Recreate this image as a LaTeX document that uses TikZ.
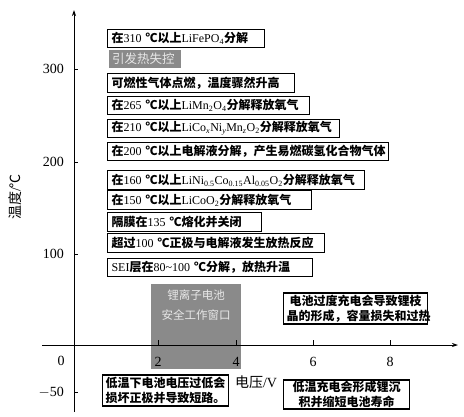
\documentclass[tikz,border=0pt]{standalone}
\usepackage{fontspec}
\setmainfont{Liberation Serif}
\newfontfamily\cjk{Noto Sans CJK SC}
\usepackage{tikz}
\usetikzlibrary{arrows.meta}
\newcommand{\zh}[1]{{\cjk\bfseries #1}}
\newcommand{\zhl}[1]{{\cjk #1}}
\definecolor{clrWin}{RGB}{138,138,138}
\definecolor{clrWinTxt}{RGB}{232,232,232}
\tikzset{
  axis/.style={line width=0.8pt,-{Stealth[length=6pt,width=4pt]}},
  tick/.style={line width=0.8pt},
  ticklbl/.style={font=\fontsize{14}{16}\selectfont,inner sep=0pt},
  axislbl/.style={font=\fontsize{14}{16}\selectfont,inner sep=0pt},
  evt/.style={draw,line width=1.1pt,anchor=west,minimum height=18.5pt,
    inner xsep=4pt,inner ysep=1pt,text width=#1,align=left,
    font=\fontsize{12}{14}\selectfont},
  hot/.style={fill=clrWin,text=clrWinTxt,anchor=west,minimum height=18pt,
    inner xsep=3pt,inner ysep=1pt,text width=#1,align=left,
    font=\fontsize{12.5}{14}\selectfont},
  note/.style={draw,line width=1.1pt,inner xsep=3pt,inner ysep=1pt,
    text width=#1,align=center,font=\fontsize{12}{14.5}\selectfont},
  window/.style={fill=clrWin},
  wintxt/.style={text=clrWinTxt,font=\fontsize{11.5}{14}\selectfont,inner sep=0pt}
}
\begin{document}
\begin{tikzpicture}[x=1pt,y=-1pt]
  \useasboundingbox (0,0) rectangle (464,416);
  % safe operating window
  \fill[window] (151,284) rectangle (241,369);
  \node[wintxt] (win1) at (196,295) {\zhl{锂离子电池}};
  \node[wintxt] (win2) at (196,315) {\zhl{安全工作窗口}};
  % axes
  \draw[axis] (74,412) -- (74,10);
  \draw[axis] (42,345) -- (458,345);
  \foreach \y/\t in {69/300,162/200,254/100,392/$-$50}{
    \draw[tick] (74,\y) -- (78,\y);
    \node[ticklbl,anchor=east] at (64,\y) {\t};
  }
  \foreach \x/\t in {158/2,236/4,313/6,390/8}{
    \draw[tick] (\x,345) -- (\x,340);
    \node[ticklbl] at (\x,362) {\t};
  }
  \node[ticklbl] (zero) at (61,361) {0};
  \node[axislbl,rotate=90] (ylbl) at (15,197) {\zhl{温度}/\zhl{℃}};
  \node[axislbl] (xlbl) at (256,382) {\zhl{电压}/V};
  % events
  \node[evt=149pt] (e310) at (107,38.5) {\zh{在}310 \zh{℃以上}LiFePO\textsubscript{4}\zh{分解}};
  \node[hot=66pt] (run) at (109,59) {\zhl{引发热失控}};
  \node[evt=179pt] (fire) at (107,83) {\zh{可燃性气体点燃，温度骤然升高}};
  \node[evt=194pt] (e265) at (107,105.5) {\zh{在}265 \zh{℃以上}LiMn\textsubscript{2}O\textsubscript{4}\zh{分解释放氧气}};
  \node[evt=224pt] (e210) at (107,128.5) {\zh{在}210 \zh{℃以上}LiCo\textsubscript{\textit{x}}Ni\textsubscript{\textit{y}}Mn\textsubscript{\textit{z}}O\textsubscript{2}\zh{分解释放氧气}};
  \node[evt=273pt] (e200) at (107,151.5) {\zh{在}200 \zh{℃以上电解液分解，产生易燃碳氢化合物气体}};
  \node[evt=249pt] (e160) at (107,180) {\zh{在}160 \zh{℃以上}LiNi\textsubscript{0.5}Co\textsubscript{0.15}Al\textsubscript{0.05}O\textsubscript{2}\zh{分解释放氧气}};
  \node[evt=196pt] (e150) at (107,200) {\zh{在}150 \zh{℃以上}LiCoO\textsubscript{2}\zh{分解释放氧气}};
  \node[evt=146pt] (e135) at (107,222) {\zh{隔膜在}135 \zh{℃熔化并关闭}};
  \node[evt=209pt] (e100) at (107,243) {\zh{超过}100 \zh{℃正极与电解液发生放热反应}};
  \node[evt=197pt] (esei) at (107,267.5) {SEI\zh{层在}80\textasciitilde100 \zh{℃分解，放热升温}};
  % notes
  \node[note=138pt,minimum height=31pt] (over) at (355.5,308.5)
    {\zh{电池过度充电会导致锂枝}\\\zh{晶的形成，容量损失和过热}};
  \node[note=120pt,minimum height=31pt] (lowv) at (165.5,390.5)
    {\zh{低温下电池电压过低会}\\\zh{损坏正极并导致短路。}};
  \node[note=120pt,minimum height=29pt] (lowc) at (346.5,394.5)
    {\zh{低温充电会形成锂沉}\\\zh{积并缩短电池寿命}};
\end{tikzpicture}
\end{document}
